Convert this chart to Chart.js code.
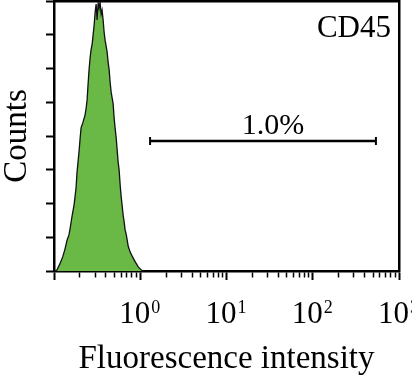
<!DOCTYPE html>
<html><head><meta charset="utf-8">
<script src="https://cdn.jsdelivr.net/npm/chart.js@4"></script>
<style>html,body{margin:0;padding:0;background:#fff}#wrap{width:412px;height:383px}</style>
</head><body><div id="wrap"><canvas id="c" width="412" height="383"></canvas></div>
<script>
// ---- data ----
const fluorescence = [0.103,0.108,0.117,0.127,0.134,0.142,0.149,0.154,0.162,0.171,0.180,0.185,0.195,0.201,0.206,0.217,0.229,0.236,0.242,0.248,0.255,0.262,0.269,0.277,0.284,0.292,0.300,0.308,0.316,0.325,0.333,0.342,0.352,0.361,0.371,0.381,0.391,0.402,0.413,0.424,0.436,0.447,0.460,0.472,0.485,0.498,0.511,0.525,0.540,0.554,0.569,0.585,0.600,0.617,0.633,0.651,0.668,0.686,0.705,0.724,0.764,0.806,0.875,0.948,1.03,1.08];
const counts = [0,3,21,44,65,92,107,127,163,196,246,293,353,394,424,441,462,483,507,551,596,631,655,673,699,729,767,791,744,794,779,797,761,773,744,708,684,667,649,619,596,560,530,513,495,453,424,397,359,323,299,255,222,193,166,145,121,110,92,74,56,44,27,12,3,0];
const countTicks = [0,100,200,300,400,500,600,700,800];
const decadeValues = [1,10,100,1000];
const decadeBases = ['10','10','10','10'];
const decadeExponents = ['0','1','2','3'];
const gateRange = [1.3, 540];
const gateLevel = 385;
const gateLabel = '1.0%';
const markerLabel = 'CD45';
const xTitle = 'Fluorescence intensity';
const yTitle = 'Counts';

const FAMILY = '"Liberation Serif", "Times New Roman", serif';
const xTickValues = [];
for (let e = -1; e <= 2; e++) for (let k = 1; k <= 9; k++) xTickValues.push(Number((k * Math.pow(10, e)).toPrecision(3)));
xTickValues.push(1000);
const isMajor = v => Math.abs(Math.log10(v) - Math.round(Math.log10(v))) < 1e-9;

const overlay = {
  id: 'overlay',
  afterDraw(chart) {
    const {ctx, chartArea, scales: {x, y}} = chart;
    ctx.save();
    ctx.fillStyle = '#000';
    ctx.strokeStyle = '#000';
    ctx.textBaseline = 'alphabetic';
    decadeValues.forEach((v, i) => {
      const px = x.getPixelForValue(v);
      ctx.font = '31px ' + FAMILY;
      const wb = ctx.measureText(decadeBases[i]).width;
      ctx.font = '18px ' + FAMILY;
      const we = ctx.measureText(decadeExponents[i]).width;
      const start = px - (wb + we) / 2 - 1;
      ctx.textAlign = 'left';
      ctx.font = '31px ' + FAMILY;
      ctx.fillText(decadeBases[i], start, chartArea.bottom + 52);
      ctx.font = '18px ' + FAMILY;
      ctx.fillText(decadeExponents[i], start + wb + 1, chartArea.bottom + 42);
    });
    const gy = y.getPixelForValue(gateLevel);
    const gx1 = x.getPixelForValue(gateRange[0]);
    const gx2 = x.getPixelForValue(gateRange[1]);
    ctx.lineWidth = 2.5;
    ctx.beginPath();
    ctx.moveTo(gx1, gy); ctx.lineTo(gx2, gy);
    ctx.stroke();
    ctx.lineWidth = 2;
    ctx.beginPath();
    ctx.moveTo(gx1, gy - 4); ctx.lineTo(gx1, gy + 4);
    ctx.moveTo(gx2, gy - 4); ctx.lineTo(gx2, gy + 4);
    ctx.stroke();
    ctx.textAlign = 'center';
    ctx.font = '30px ' + FAMILY;
    ctx.fillText(gateLabel, (gx1 + gx2) / 2 + 10, gy - 7);
    ctx.textAlign = 'right';
    ctx.font = '31px ' + FAMILY;
    ctx.fillText(markerLabel, chartArea.right - 8, chartArea.top + 36);
    ctx.restore();
  }
};

new Chart(document.getElementById('c'), {
  type: 'line',
  data: {
    datasets: [{
      data: fluorescence.map((v, i) => ({x: v, y: counts[i]})),
      fill: 'origin',
      backgroundColor: '#6ab946',
      borderColor: '#111',
      borderWidth: 1.3,
      pointRadius: 0,
      tension: 0
    }]
  },
  options: {
    responsive: false,
    animation: false,
    events: [],
    layout: {padding: {left: 0, right: 13, top: 1, bottom: 0}},
    plugins: {legend: {display: false}, tooltip: {enabled: false}},
    scales: {
      x: {
        type: 'logarithmic', min: 0.1, max: 1000, position: 'bottom',
        afterBuildTicks: s => { s.ticks = xTickValues.map(v => ({value: v})); },
        ticks: {display: false},
        grid: {
          drawOnChartArea: false, drawTicks: true, tickLength: 9, tickColor: '#000',
          tickWidth: c => (c.tick && isMajor(c.tick.value)) ? 2 : 1.5,
          tickBorderDash: c => (c.tick && isMajor(c.tick.value)) ? [] : [5, 20]
        },
        border: {display: true, color: '#000', width: 2.5},
        title: {display: true, text: xTitle, color: '#000', font: {family: FAMILY, size: 33, lineHeight: 1}, padding: {top: 63, bottom: 7}}
      },
      y: {
        min: 0, max: 800, position: 'left',
        afterBuildTicks: s => { s.ticks = countTicks.map(v => ({value: v})); },
        ticks: {display: false},
        grid: {drawOnChartArea: false, drawTicks: true, tickLength: 8, tickColor: '#000', tickWidth: 2},
        border: {display: true, color: '#000', width: 2.5},
        title: {display: true, text: yTitle, color: '#000', font: {family: FAMILY, size: 33, lineHeight: 1}, padding: {top: 1, bottom: 12}}
      },
      xTop: {
        type: 'linear', min: 0, max: 1, position: 'top',
        ticks: {display: false},
        grid: {drawOnChartArea: false, drawTicks: false},
        border: {display: true, color: '#000', width: 2.5}
      },
      yRight: {
        type: 'linear', min: 0, max: 1, position: 'right',
        ticks: {display: false},
        grid: {drawOnChartArea: false, drawTicks: false},
        border: {display: true, color: '#000', width: 2.5}
      }
    }
  },
  plugins: [overlay]
});
</script>
</body></html>
